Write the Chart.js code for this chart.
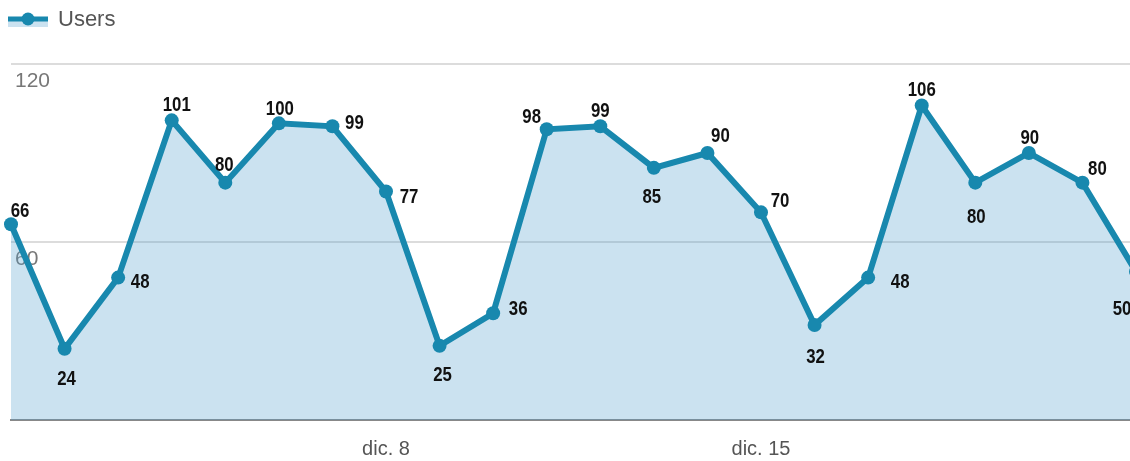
<!DOCTYPE html>
<html>
<head>
<meta charset="utf-8">
<script src="https://cdn.jsdelivr.net/npm/chart.js@4.4.1/dist/chart.umd.min.js"></script>
<style>
  html, body { margin: 0; padding: 0; background: #fff; overflow: hidden; }
  #wrap { width: 1130px; height: 461px; overflow: hidden; position: relative; }
  #box { width: 1140px; height: 461px; position: absolute; left: 0; top: 0; }
</style>
</head>
<body>
<div id="wrap"><div id="box"><canvas id="usersChart"></canvas></div></div>
<script>
const DAYS = [
  "dic. 1", "dic. 2", "dic. 3", "dic. 4", "dic. 5", "dic. 6", "dic. 7",
  "dic. 8", "dic. 9", "dic. 10", "dic. 11", "dic. 12", "dic. 13", "dic. 14",
  "dic. 15", "dic. 16", "dic. 17", "dic. 18", "dic. 19", "dic. 20", "dic. 21",
  "dic. 22",
];
const USERS = [66, 24, 48, 101, 80, 100, 99, 77, 25, 36, 98, 99, 85, 90, 70, 32, 48, 106, 80, 90, 80, 50];
const SHOWN_DAYS = ["dic. 8", "dic. 15"];
const Y_TICKS = [0, 60, 120];

const LINE = "#1888ae";
const FILL = "rgba(82, 158, 205, 0.3)";
const SANS = '"Liberation Sans", Arial, sans-serif';

// where each value label sits relative to its point (dx, dy)
const labelOffsets = [
  [9, -13], [2, 30], [22, 5], [5, -15], [-1, -17], [1, -14], [22, -3], [23, 6],
  [3, 29], [25, -4], [-15, -12], [0, -15], [-2, 29], [13, -17], [19, -11], [1, 32],
  [32, 5], [0, -15], [1, 35], [1, -15], [15, -13], [-14, 38],
];

function legendIcon() {
  const c = document.createElement("canvas");
  c.width = 40;
  c.height = 16;
  const ctx = c.getContext("2d");
  ctx.fillStyle = "#cbe2f0";
  ctx.fillRect(0, 8, 40, 7);
  ctx.strokeStyle = LINE;
  ctx.lineWidth = 5;
  ctx.beginPath();
  ctx.moveTo(0, 7);
  ctx.lineTo(40, 7);
  ctx.stroke();
  ctx.fillStyle = LINE;
  ctx.beginPath();
  ctx.arc(20, 7, 6.5, 0, Math.PI * 2);
  ctx.fill();
  return c;
}

// give the legend a fixed band so the plot starts where the original does
const legendBand = {
  id: "legendBand",
  beforeLayout(chart) {
    const legend = chart.legend;
    if (!legend || legend._banded) return;
    const fit = legend.fit;
    legend.fit = function () {
      fit.call(this);
      this.height = 64;
    };
    legend._banded = true;
  },
};

const valueLabels = {
  id: "valueLabels",
  afterDatasetsDraw(chart) {
    const { ctx } = chart;
    const meta = chart.getDatasetMeta(0);
    ctx.save();
    ctx.font = "bold 21px " + SANS;
    ctx.fillStyle = "#111";
    ctx.textAlign = "center";
    ctx.textBaseline = "middle";
    meta.data.forEach((pt, i) => {
      const off = labelOffsets[i] || [0, -16];
      ctx.save();
      ctx.translate(pt.x + off[0], pt.y + off[1]);
      ctx.scale(0.8, 1);
      ctx.fillText(String(USERS[i]), 0, 0);
      ctx.restore();
    });
    ctx.restore();
  },
};

new Chart(document.getElementById("usersChart"), {
  type: "line",
  data: {
    labels: DAYS,
    datasets: [
      {
        label: "Users",
        data: USERS,
        borderColor: LINE,
        backgroundColor: FILL,
        borderWidth: 6,
        pointRadius: 7,
        pointBackgroundColor: LINE,
        pointBorderWidth: 0,
        fill: "origin",
        tension: 0,
        clip: false,
      },
    ],
  },
  options: {
    responsive: true,
    maintainAspectRatio: false,
    animation: false,
    layout: {
      autoPadding: false,
      padding: { left: 0, right: 4, top: 0, bottom: 0 },
    },
    plugins: {
      legend: {
        position: "top",
        align: "start",
        labels: {
          usePointStyle: true,
          pointStyleWidth: 38,
          boxHeight: 16,
          padding: 9,
          color: "#555",
          font: { family: SANS, size: 22 },
          generateLabels() {
            return [{
              text: "Users",
              pointStyle: legendIcon(),
              fillStyle: LINE,
              strokeStyle: LINE,
              lineWidth: 0,
              fontColor: "#555",
              datasetIndex: 0,
            }];
          },
        },
      },
      tooltip: { enabled: false },
    },
    scales: {
      x: {
        offset: false,
        grid: { display: false, drawTicks: false },
        border: { display: true, color: "#888", width: 2 },
        ticks: {
          color: "#555",
          padding: 17,
          autoSkip: false,
          maxRotation: 0,
          font: { family: SANS, size: 20 },
          callback(value) {
            const label = DAYS[value];
            return SHOWN_DAYS.includes(label) ? label : "";
          },
        },
        afterFit(scale) {
          scale.height = 41;
          scale.paddingLeft = 0;
          scale.paddingRight = 0;
        },
      },
      y: {
        min: 0,
        max: 120,
        grid: { color: "#dcdcdc", lineWidth: 2, drawTicks: false },
        border: { display: false },
        afterBuildTicks(scale) {
          scale.ticks = Y_TICKS.map((v) => ({ value: v }));
        },
        ticks: { display: false },
        afterFit(scale) {
          scale.width = 11;
        },
      },
      yLabels: {
        position: "left",
        min: 0,
        max: 120,
        z: 1,
        grid: { display: false, drawTicks: false },
        border: { display: false },
        afterBuildTicks(scale) {
          scale.ticks = Y_TICKS.map((v) => ({ value: v }));
        },
        ticks: {
          mirror: true,
          padding: 15,
          labelOffset: 17,
          color: "#777",
          textStrokeColor: "#fff",
          textStrokeWidth: 4,
          font: { family: SANS, size: 21 },
          callback(value) {
            return value === 0 ? "" : String(value);
          },
        },
        afterFit(scale) {
          scale.width = 0;
        },
      },
    },
  },
  plugins: [legendBand, valueLabels],
});
</script>
</body>
</html>
